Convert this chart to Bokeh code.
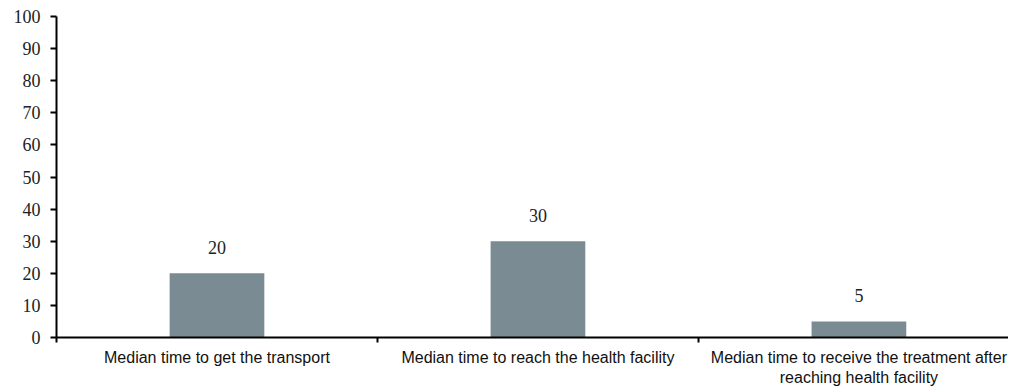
from bokeh.plotting import figure
from bokeh.models import Range1d, FixedTicker, ColumnDataSource
from bokeh.embed import file_html
from bokeh.resources import INLINE
from bokeh.core.properties import value

categories = [
    "Median time to get the transport",
    "Median time to reach the health facility",
    "Median time to receive the treatment after\nreaching health facility",
]
values = [20, 30, 5]
value_labels = ["20", "30", "5"]
y_ticks = list(range(0, 101, 10))

n = len(categories)
centers = [i + 0.5 for i in range(n)]
bounds = list(range(n + 1))

src = ColumnDataSource(dict(x=centers, top=values, label=value_labels))

SERIF = "'Liberation Serif', 'Times New Roman', serif"

p = figure(width=1008, height=388, x_range=Range1d(0, 2.966), y_range=Range1d(0, 100),
           output_backend="svg", toolbar_location=None,
           min_border_left=56, min_border_right=0, min_border_top=16, min_border_bottom=51)
p.outline_line_color = None
p.xgrid.visible = False
p.ygrid.visible = False

p.vbar(x="x", top="top", width=0.295, bottom=0, source=src, color="#7A8B93", line_color=None)
p.text(x="x", y="top", text="label", source=src, y_offset=-26, text_align="center",
       text_baseline="alphabetic", text_font=value(SERIF), text_font_size="18px",
       text_color="#222222")

xa = p.xaxis[0]
xa.ticker = FixedTicker(ticks=centers, minor_ticks=bounds)
xa.major_label_overrides = {c: lab for c, lab in zip(centers, categories)}
xa.major_tick_line_color = None
xa.minor_tick_out = 5
xa.minor_tick_in = 0
xa.minor_tick_line_color = "black"
xa.minor_tick_line_width = 2
xa.axis_line_width = 2
xa.axis_line_color = "black"
xa.major_label_text_font = "Liberation Sans"
xa.major_label_text_font_size = "16px"
xa.major_label_text_color = "#111111"
xa.major_label_standoff = 5

ya = p.yaxis[0]
ya.ticker = FixedTicker(ticks=y_ticks)
ya.minor_tick_line_color = None
ya.major_tick_out = 6
ya.major_tick_in = 0
ya.major_tick_line_width = 2
ya.axis_line_width = 2
ya.axis_line_color = "black"
ya.major_label_text_font = SERIF
ya.major_label_text_font_size = "18px"
ya.major_label_text_color = "#222222"
ya.major_label_standoff = 10

open("out.html", "w").write(file_html(p, INLINE))
